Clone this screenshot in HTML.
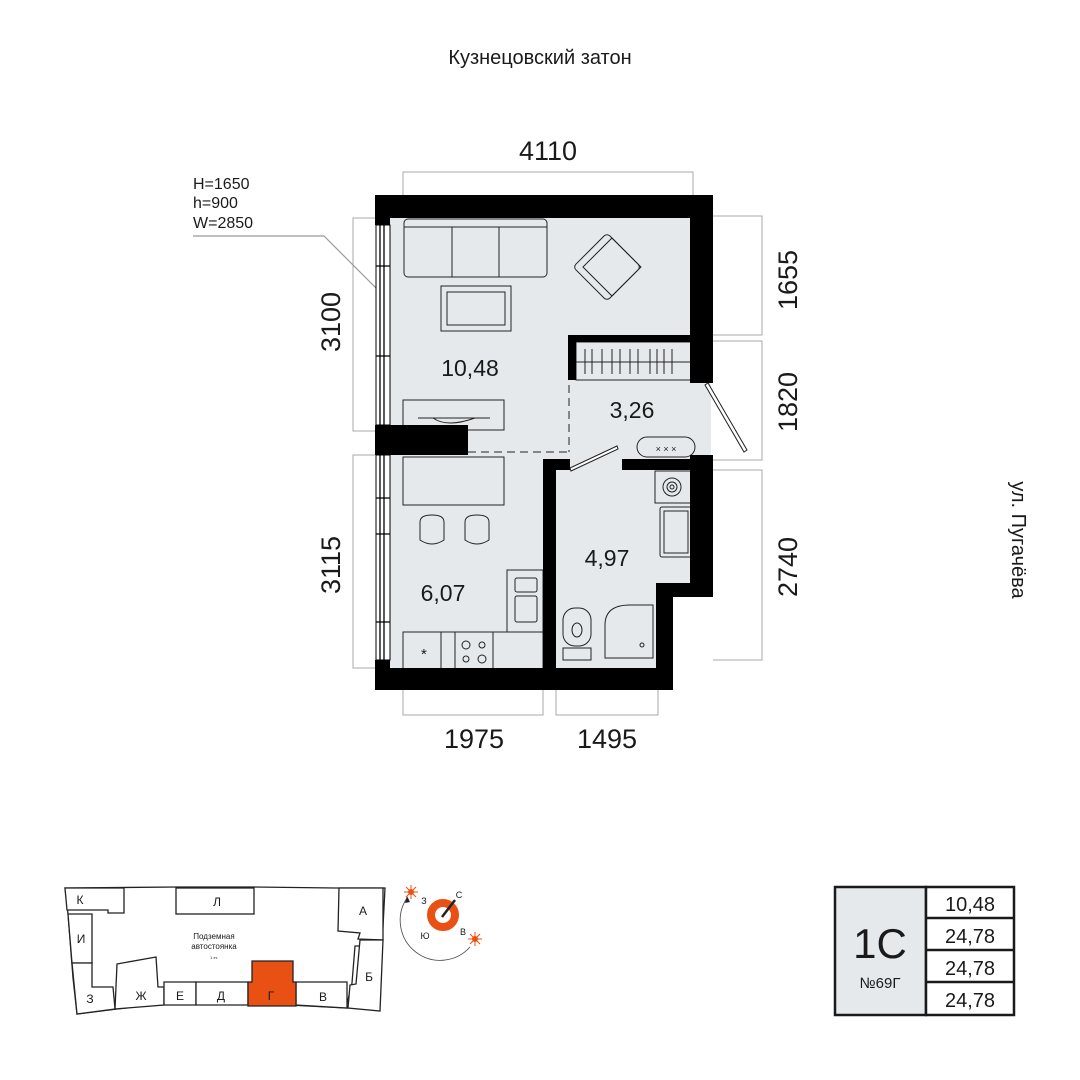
<!DOCTYPE html>
<html><head><meta charset="utf-8"><style>
html,body{margin:0;padding:0;background:#fff;}
svg{display:block;}
text{font-family:"Liberation Sans",sans-serif;fill:#1a1a1a;}
</style></head><body>
<svg width="1080" height="1080" viewBox="0 0 1080 1080" xmlns="http://www.w3.org/2000/svg">
<text x="540" y="64" font-size="20" text-anchor="middle">Кузнецовский затон</text>
<text x="1012" y="540" font-size="20" text-anchor="middle" transform="rotate(90 1012 540)">ул. Пугачёва</text>

<g fill="none" stroke="#aaa" stroke-width="1">
<path d="M403 195V172H693V195"/>
<path d="M375 218H353V431H375"/>
<path d="M375 455H353V668H375"/>
<path d="M713 216H762V335H713"/>
<path d="M713 341H762V460H713"/>
<path d="M713 470H762V660H713"/>
<path d="M403 690V715H543V690"/>
<path d="M556 690V715H658V690"/>
</g>
<g font-size="27">
<text x="548" y="160" text-anchor="middle">4110</text>
<text x="474" y="748" text-anchor="middle">1975</text>
<text x="607" y="748" text-anchor="middle">1495</text>
<text x="0" y="0" text-anchor="middle" transform="translate(340 322) rotate(-90)">3100</text>
<text x="0" y="0" text-anchor="middle" transform="translate(340 565) rotate(-90)">3115</text>
<text x="0" y="0" text-anchor="middle" transform="translate(797 280) rotate(-90)">1655</text>
<text x="0" y="0" text-anchor="middle" transform="translate(797 402) rotate(-90)">1820</text>
<text x="0" y="0" text-anchor="middle" transform="translate(797 567) rotate(-90)">2740</text>
</g>
<g font-size="16">
<text x="193" y="189">H=1650</text>
<text x="193" y="208">h=900</text>
<text x="193" y="228">W=2850</text>
</g>
<path d="M193 236H324L380 292" fill="none" stroke="#999" stroke-width="1.2"/>

<path d="M390 218H693V383H711V460H693V583H656V670H390Z" fill="#e5e9ec"/>

<g fill="none" stroke="#222" stroke-width="1">
<rect x="404" y="219" width="143" height="58" rx="4"/>
<path d="M410 227H541M452 227V277M499 227V277M404 227H410M541 227H547"/>
<g transform="rotate(45 607 267)"><rect x="583" y="243" width="48" height="48" rx="4"/><rect x="590" y="243" width="41" height="41"/></g>
<rect x="441" y="286" width="70" height="45"/><rect x="447" y="292" width="58" height="33"/>
<rect x="403" y="400" width="101" height="30"/>
<path d="M418 418H490M433 418Q447 428 475 418"/>
<rect x="403" y="457" width="101" height="48"/>
<path d="M420 540V522Q420 515 432 515Q444 515 444 522V540Q432 548 420 540Z"/>
<path d="M465 540V522Q465 515 477 515Q489 515 489 522V540Q477 548 465 540Z"/>
<rect x="507" y="570" width="36" height="62"/>
<rect x="515" y="578" width="22" height="14" rx="2"/><rect x="515" y="596" width="22" height="26" rx="2"/>
<rect x="403" y="632" width="140" height="38"/>
<path d="M441 632V670M455 632V670M493 632V670"/>
<circle cx="466" cy="645" r="4"/><circle cx="482" cy="645" r="3"/><circle cx="466" cy="659" r="3"/><circle cx="482" cy="659" r="4"/>
<text x="421" y="659" font-size="15" stroke="none">*</text>
<rect x="576" y="342" width="117" height="38"/>
<path d="M576 362H693M585 349V374M592 349V374M602 349V374M612 349V374M620 349V374M630 349V374M638 349V374M650 349V374M657 349V374M664 349V374M672 349V374"/>
<rect x="637" y="437" width="58" height="20" rx="10"/>
<text x="666" y="452" font-size="9" text-anchor="middle" stroke="none">× × ×</text>
<rect x="655" y="471" width="38" height="32"/><circle cx="672" cy="487" r="9"/><circle cx="672" cy="487" r="5"/><circle cx="672" cy="487" r="2"/>
<rect x="660" y="507" width="33" height="50" rx="2"/><rect x="664" y="511" width="24" height="42"/>
<rect x="563" y="608" width="28" height="38" rx="12"/><ellipse cx="577" cy="630" rx="5" ry="7"/>
<rect x="563" y="648" width="28" height="12"/>
<path d="M605 658V625Q605 605 630 605H653V658Z"/><circle cx="642" cy="645" r="2"/>
</g>

<path d="M468 452H570M569 385V452" stroke="#222" stroke-width="1" stroke-dasharray="8 5" fill="none"/>

<g fill="#000">
<rect x="375" y="195" width="338" height="23"/>
<rect x="690" y="195" width="23" height="188"/>
<rect x="690" y="455" width="23" height="142"/>
<rect x="656" y="583" width="57" height="14"/>
<rect x="656" y="583" width="17" height="107"/>
<rect x="375" y="668" width="298" height="22"/>
<rect x="375" y="195" width="15" height="30"/>
<rect x="375" y="425" width="93" height="30"/>
<rect x="375" y="660" width="15" height="30"/>
<rect x="568" y="335" width="145" height="7"/>
<rect x="568" y="335" width="8" height="45"/>
<rect x="543" y="459" width="13" height="231"/>
<rect x="543" y="459" width="27" height="11"/>
<rect x="622" y="459" width="71" height="11"/>
</g>
<g fill="#fff" stroke="#000" stroke-width="1">
<rect x="376" y="225" width="14" height="200"/>
<rect x="376" y="455" width="14" height="205"/>
</g>
<g stroke="#000" stroke-width="1.3">
<path d="M380 225V425M384 225V425M380 455V660M384 455V660"/>
<path d="M376 266H390M376 356H390M376 498H390M376 534H390M376 622H390"/>
</g>
<g stroke="#222" stroke-width="1" fill="#fff">
<path d="M570 468L617 446L618 449L571 471Z"/>
<path d="M708 383L747 450L744 452L705 385Z"/>
</g>

<g font-size="23">
<text x="470" y="376" text-anchor="middle">10,48</text>
<text x="632" y="418" text-anchor="middle">3,26</text>
<text x="607" y="566" text-anchor="middle">4,97</text>
<text x="443" y="601" text-anchor="middle">6,07</text>
</g>

<g fill="#fff" stroke="#222" stroke-width="1.3">
<path d="M65 888L178 887H252L335 888H385L382 946L355 946L352 983L346 1008L250 1003H165L77 1014L73 978L68 914Z"/>
<path d="M65 888H124V913H108V910H67Z"/>
<path d="M68 914H92V963H72Z"/>
<path d="M72 963H92V987H113L115 1009L77 1014Z"/>
<path d="M117 964L156 957L158 987H164V1005L115 1009Z"/>
<path d="M164 982H196V1005H164Z"/>
<path d="M196 982H248V1005H196Z"/>
<path d="M296 982H347V1008L296 1005Z"/>
<path d="M339 888H383V940L358 939L360 933L338 931Z"/>
<path d="M360 940H383L380 1011L348 1008L350 985L356 984Z"/>
<rect x="176" y="888" width="78" height="26"/>
</g>
<path d="M252 961H293V982H296V1006H248V982H252Z" fill="#e85113" stroke="#222" stroke-width="1.3"/>
<g font-size="12" text-anchor="middle">
<text x="80" y="904">К</text><text x="217" y="906">Л</text><text x="81" y="943">И</text>
<text x="90" y="1003">З</text><text x="141" y="1000">Ж</text><text x="180" y="1000">Е</text>
<text x="221" y="1000">Д</text><text x="271" y="1000">Г</text><text x="323" y="1001">В</text>
<text x="363" y="915">А</text><text x="369" y="981">Б</text>
<text x="214" y="939" font-size="8">Подземная</text>
<text x="214" y="949" font-size="8">автостоянка</text>
<text x="214" y="959" font-size="4">1 эт.</text>
</g>
<circle cx="443" cy="915" r="12" fill="none" stroke="#e85113" stroke-width="8"/>
<path d="M442 917L455 900" stroke="#222" stroke-width="2.5"/>
<path d="M470 947A40 40 0 0 1 407 898" fill="none" stroke="#444" stroke-width="0.8"/>
<path d="M405 903L407 896L410 902Z" fill="#222"/>
<g stroke="#e85113" stroke-width="1"><path d="M404 892H418M411 885V899M406 887L416 897M416 887L406 897"/><path d="M468 939H482M475 932V946M470 934L480 944M480 934L470 944"/></g>
<circle cx="411" cy="892" r="3" fill="#e85113"/><circle cx="475" cy="939" r="3" fill="#e85113"/>
<g font-size="9" text-anchor="middle"><text x="424" y="904">З</text><text x="459" y="898">С</text><text x="425" y="939">Ю</text><text x="463" y="935">В</text></g>

<rect x="835" y="887" width="91" height="128" fill="#e5e9ec" stroke="#1a1a1a" stroke-width="2.5"/>
<rect x="926" y="887" width="88" height="128" fill="#fff" stroke="#1a1a1a" stroke-width="2.5"/>
<path d="M926 918H1014M926 950H1014M926 982H1014" stroke="#1a1a1a" stroke-width="2.5"/>
<text x="880" y="958" font-size="42" text-anchor="middle">1С</text>
<text x="880" y="988" font-size="15" text-anchor="middle">№69Г</text>
<g font-size="20" text-anchor="middle">
<text x="970" y="911">10,48</text><text x="970" y="943">24,78</text>
<text x="970" y="975">24,78</text><text x="970" y="1007">24,78</text>
</g>
</svg>
</body></html>
